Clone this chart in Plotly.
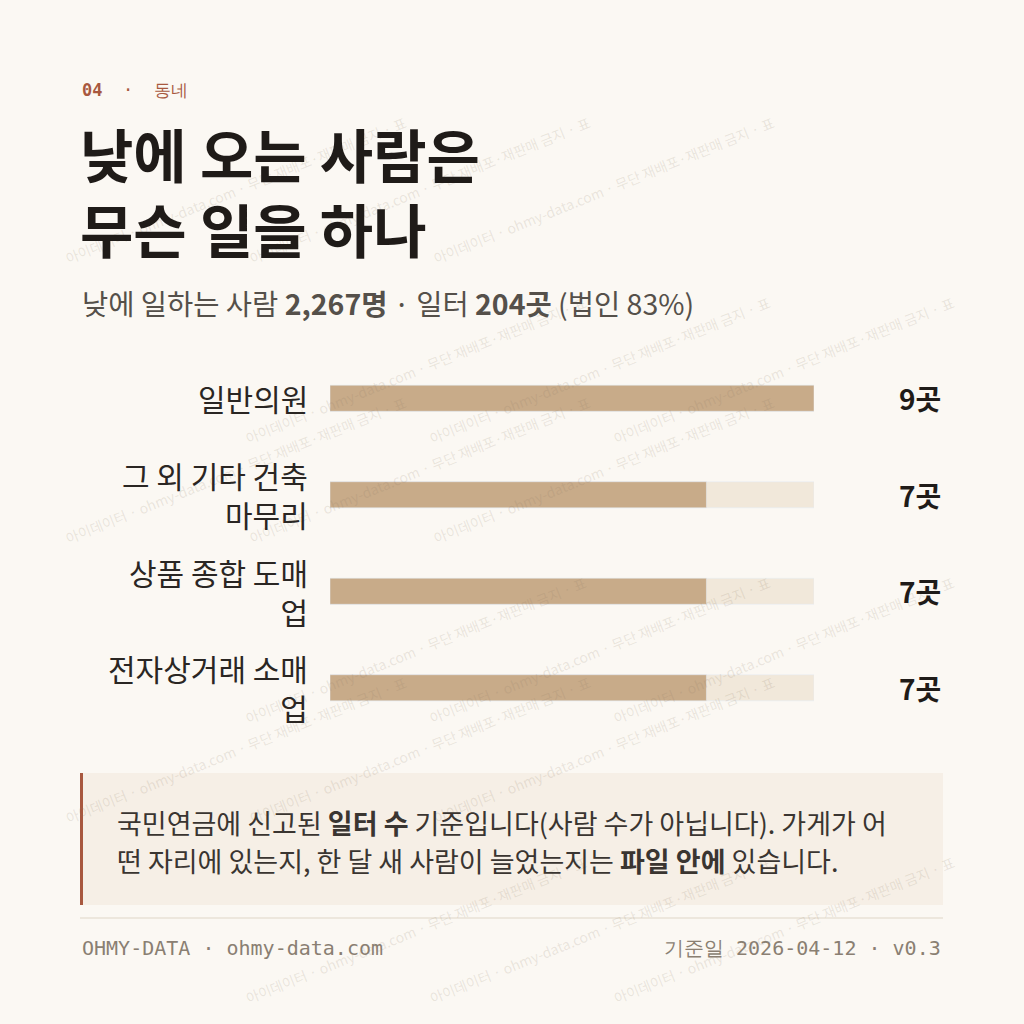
import plotly.graph_objects as go

categories = ["일반의원", "그 외 기타 건축<br>마무리", "상품 종합 도매<br>업", "전자상거래 소매<br>업"]
counts = [9, 7, 7, 7]
max_count = 9
value_labels = ["9곳", "7곳", "7곳", "7곳"]

W = H = 1024
KR = "Noto Sans CJK KR"
MONO = "DejaVu Sans Mono"
BG = "#fbf8f3"
BAR = "#c8ab89"
TRACK = "#f1e8da"

def px(x):
    return x / W

def py(y):
    return 1 - y / H

ypos = list(range(len(categories)))

fig = go.Figure()
fig.add_trace(go.Bar(x=[max_count] * len(categories), y=ypos, orientation="h",
                     marker_color=TRACK, width=0.27, hoverinfo="skip"))
fig.add_trace(go.Bar(x=counts, y=ypos, orientation="h",
                     marker_color=BAR, width=0.27))

fig.update_layout(
    width=W, height=H, margin=dict(l=0, r=0, t=0, b=0),
    paper_bgcolor=BG, plot_bgcolor="rgba(0,0,0,0)",
    barmode="overlay", showlegend=False,
    xaxis=dict(domain=[px(330), px(814)], range=[0, max_count], visible=False),
    yaxis=dict(domain=[py(736), py(350)], range=[3.5, -0.5], visible=False),
    font=dict(family=KR),
)

ann = []
# watermark
wm = "아이데이터 · ohmy-data.com · 무단 재배포·재판매 금지 · 표"
for row in range(6):
    for col in range(3):
        ann.append(dict(x=px(col * 360 + (row % 2) * 180 + 60), y=py(row * 180 + 110),
                        xref="paper", yref="paper", text=wm, showarrow=False,
                        textangle=-22, font=dict(size=14, color="rgba(140,120,100,0.17)")))

for i, (c, v) in enumerate(zip(categories, value_labels)):
    ann.append(dict(x=px(310), y=i, xref="paper", yref="y", xanchor="right", text=c, showarrow=False,
                    align="right", font=dict(size=30, color="#2a2623")))
    ann.append(dict(x=px(943), y=i, xref="paper", yref="y", xanchor="right",
                    text="<b>" + v + "</b>", showarrow=False, font=dict(size=28, color="#1f1b18")))

ann += [
    dict(x=px(80), y=py(90), xref="paper", yref="paper", xanchor="left", yanchor="middle",
         text="<b>04</b>  ·  동네", showarrow=False, font=dict(family=MONO, size=17, color="#a8583f")),
    dict(x=px(78), y=py(190), xref="paper", yref="paper", xanchor="left", yanchor="middle",
         text="<b>낮에 오는 사람은<br>무슨 일을 하나</b>", showarrow=False, align="left",
         font=dict(size=58, color="#1f1b18")),
    dict(x=px(80), y=py(302), xref="paper", yref="paper", xanchor="left", yanchor="middle",
         text="낮에 일하는 사람 <b>2,267명</b> · 일터 <b>204곳</b> (법인 83%)", showarrow=False,
         font=dict(size=28.5, color="#55504a")),
    dict(x=px(115), y=py(822), xref="paper", yref="paper", xanchor="left", yanchor="middle",
         text="국민연금에 신고된 <b>일터 수</b> 기준입니다(사람 수가 아닙니다). 가게가 어", showarrow=False,
         font=dict(size=27, color="#3a3531")),
    dict(x=px(115), y=py(860), xref="paper", yref="paper", xanchor="left", yanchor="middle",
         text="떤 자리에 있는지, 한 달 새 사람이 늘었는지는 <b>파일 안에</b> 있습니다.", showarrow=False,
         font=dict(size=27, color="#3a3531")),
    dict(x=px(80), y=py(948), xref="paper", yref="paper", xanchor="left", yanchor="middle",
         text="OHMY-DATA · ohmy-data.com", showarrow=False, font=dict(family=MONO, size=20, color="#8a7f72")),
    dict(x=px(943), y=py(948), xref="paper", yref="paper", xanchor="right", yanchor="middle",
         text="기준일 2026-04-12 · v0.3", showarrow=False, font=dict(family=MONO, size=20, color="#8a7f72")),
]
fig.update_layout(annotations=ann)

fig.update_layout(shapes=[
    dict(type="rect", xref="paper", yref="paper", x0=px(80), x1=px(943), y0=py(905), y1=py(773),
         fillcolor="#f6efe6", line_width=0, layer="below"),
    dict(type="line", xref="paper", yref="paper", x0=px(81.5), x1=px(81.5), y0=py(905), y1=py(773),
         line=dict(color="#a8583f", width=3)),
    dict(type="line", xref="paper", yref="paper", x0=px(80), x1=px(943), y0=py(918), y1=py(918),
         line=dict(color="#e8e2d6", width=1.5)),
])

fig.write_html("out.html", config={"displayModeBar": False},
               post_script="document.body.style.margin='0';")
